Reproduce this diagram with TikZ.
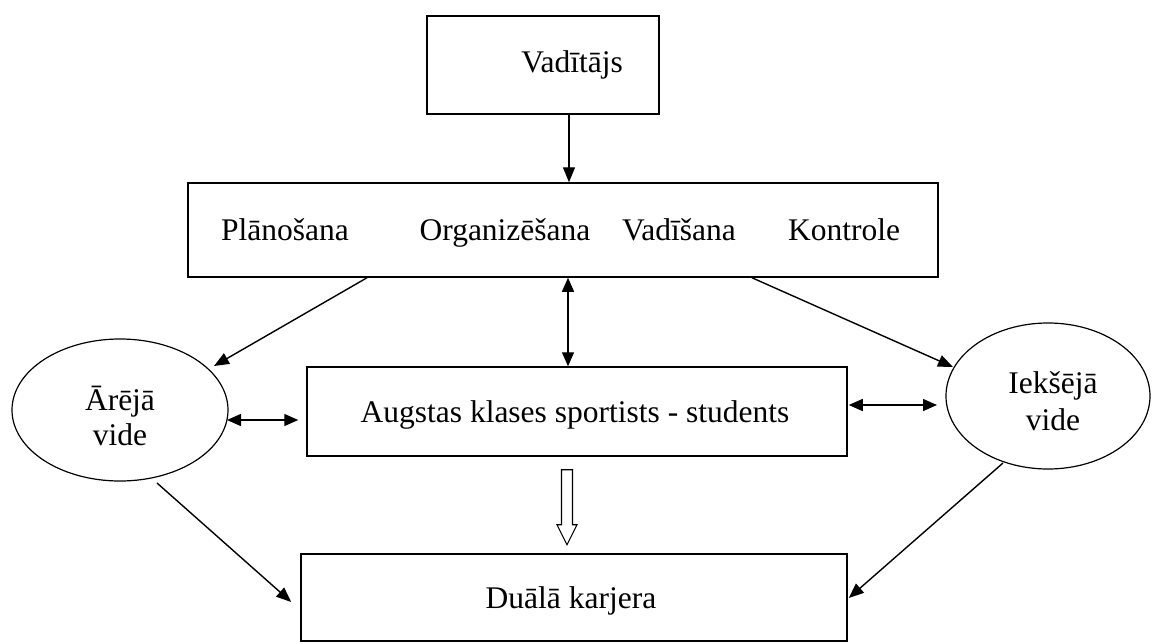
\documentclass[tikz,border=0pt]{standalone}
\usepackage{fontspec}
\setmainfont{Liberation Serif}
\usetikzlibrary{arrows.meta,calc,shapes.geometric}
\begin{document}
\begin{tikzpicture}[x=1pt,y=-1pt,
  box/.style={draw, line width=1.5pt, rectangle, inner sep=0pt},
  oval/.style={draw, line width=1.2pt, ellipse, inner sep=0pt},
  lbl/.style={font=\fontsize{31.5}{36}\selectfont, inner sep=0pt, anchor=base},
  conn/.style={line width=1.4pt, -{Triangle[length=15pt,width=12pt]}},
  both/.style={line width=1.4pt, {Triangle[length=14pt,width=12pt]}-{Triangle[length=14pt,width=12pt]}},
  hollow/.style={draw, line width=1.1pt, fill=white, line join=miter}
]
\useasboundingbox (0,0) rectangle (1152,643);

% boxes
\node[box, minimum width=232pt, minimum height=98pt] (vad) at (543,65) {};
\node[box, minimum width=750pt, minimum height=94pt] (plan) at (563,230) {};
\node[box, minimum width=540pt, minimum height=89pt] (aug) at (577,411.5) {};
\node[box, minimum width=546pt, minimum height=87pt] (dual) at (574,597.5) {};

% environments
\node[oval, minimum width=216pt, minimum height=142pt] (le) at (120,410) {};
\node[oval, minimum width=204pt, minimum height=146pt] (re) at (1048,396) {};

% labels
\node[lbl] (tvad) at (572,72) {Vadītājs};
\node[lbl] (tpl) at (285,240) {Plānošana};
\node[lbl] (tor) at (505,240) {Organizēšana};
\node[lbl] (tva) at (679,240) {Vadīšana};
\node[lbl] (tko) at (844,240) {Kontrole};
\node[lbl] (taug) at (575,422) {Augstas klases sportists - students};
\node[lbl] (tdual) at (571,608) {Duālā karjera};
\node[lbl] (tle1) at (120,410) {Ārējā};
\node[lbl] (tle2) at (120,445) {vide};
\node[lbl] (tre1) at (1053,393) {Iekšējā};
\node[lbl] (tre2) at (1053,430) {vide};

% connectors
\coordinate (c1) at (569,0);
\coordinate (c2) at (568,0);
\draw[conn] (vad.south -| c1) -- (plan.north -| c1);
\draw[both] (plan.south -| c2) -- (aug.north -| c2);
\draw[conn] ($(plan.south)+(-196,0)$) -- ($(le.center)+(94,-44)$);
\draw[conn] ($(plan.south)+(189,0)$) -- ($(re.center)+(-95,-29)$);
\draw[both] ($(le.center)+(107,10)$) -- ($(aug.west)+(-8,8.5)$);
\draw[both] ($(aug.east)+(1,-6.5)$) -- ($(re.center)+(-111,9)$);
\draw[conn] ($(le.center)+(37,73)$) -- ($(dual.west)+(-9,4.5)$);
\draw[conn] ($(re.center)+(-45,67)$) -- ($(dual.east)+(1,0.5)$);

% hollow block arrow towards the career box
\draw[hollow] ($(aug.south)+(-15.5,13)$) -- ++(11,0) -- ++(0,55) -- ++(4.5,0)
  -- ++(-10,20) -- ++(-10,-20) -- ++(4.5,0) -- cycle;
\end{tikzpicture}
\end{document}
